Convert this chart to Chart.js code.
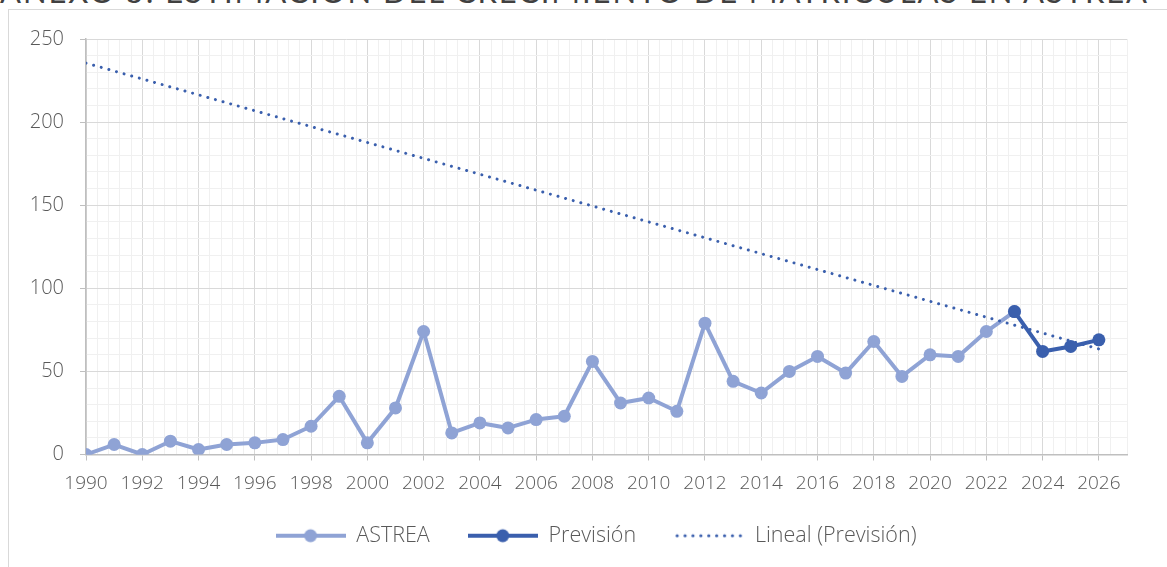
<!DOCTYPE html>
<html>
<head>
<meta charset="utf-8">
<script src="https://cdn.jsdelivr.net/npm/chart.js@4.4.0/dist/chart.umd.min.js"></script>
<style>
  html, body { margin: 0; padding: 0; background: #fff; width: 1167px; height: 567px; overflow: hidden; }
  #title { position: absolute; left: 0px; top: -28px; white-space: nowrap; font-family: "Lato", sans-serif; font-weight: 400; font-size: 31px; letter-spacing: 1.9px; color: #404040; }
  #frame { position: absolute; left: 8px; top: 9px; width: 1300px; height: 700px; border: 1.5px solid #d9d9d9; }
  #wrap { position: absolute; left: 0; top: 0; width: 1167px; height: 567px; }
</style>
</head>
<body>
<div id="title">ANEXO 5: ESTIMACIÓN DEL CRECIMIENTO DE MATRÍCULAS EN ASTREA</div>
<div id="frame"></div>
<div id="wrap"><canvas id="c"></canvas></div>
<script>
// ---- data ----
const years = [1990,1991,1992,1993,1994,1995,1996,1997,1998,1999,2000,2001,2002,2003,2004,2005,2006,2007,2008,2009,2010,2011,2012,2013,2014,2015,2016,2017,2018,2019,2020,2021,2022,2023];
const astrea = [0,6,0,8,3,6,7,9,17,35,7,28,74,13,19,16,21,23,56,31,34,26,79,44,37,50,59,49,68,47,60,59,74,86];
const forecastYears = [2023,2024,2025,2026];
const prevision = [86,62,65,69];
const trendYears = [1990,2026];
const trendValues = [235.5,63.5];
const seriesNames = ['ASTREA','Previsión','Lineal (Previsión)'];

const LIGHT = '#8FA3D5';
const DARK = '#3A5FAD';
const TEXT = '#595959';
const FONT = '"Open Sans", "Lato", sans-serif';

function pts(xs, ys) { return xs.map((x, i) => ({x: x, y: ys[i]})); }
function isMajorYear(v) { const r = Math.round(v); return Math.abs(v - r) < 1e-6 && r % 2 === 0 && r <= 2026; }

function legendSwatch(color, kind) {
  const c = document.createElement('canvas');
  c.width = 70; c.height = 16;
  const g = c.getContext('2d');
  g.strokeStyle = color; g.fillStyle = color;
  if (kind === 'dots') {
    for (let x = 3; x < 70; x += 7.9) { g.beginPath(); g.arc(x, 8, 1.6, 0, Math.PI * 2); g.fill(); }
  } else {
    g.lineWidth = 4; g.beginPath(); g.moveTo(0, 8); g.lineTo(70, 8); g.stroke();
    g.beginPath(); g.arc(35, 8, 6.5, 0, Math.PI * 2); g.fill();
  }
  return c;
}
const swatches = [legendSwatch(LIGHT, 'line'), legendSwatch(DARK, 'line'), legendSwatch(DARK, 'dots')];

// place the legend in the (wider) chart frame like the original
const legendFrame = { id: 'legendFrame', afterLayout(chart) {
  const l = chart.legend; if (!l) return;
  const h = l.bottom - l.top;
  l.left = 65; l.right = 1127; l.top = 487; l.bottom = 487 + h;
} };

new Chart(document.getElementById('c'), {
  type: 'line',
  plugins: [legendFrame],
  data: {
    datasets: [
      { label: seriesNames[0], data: pts(years, astrea), borderColor: LIGHT, backgroundColor: LIGHT, borderWidth: 4,
        pointRadius: 6.5, pointBorderWidth: 0, pointBackgroundColor: LIGHT, order: 3, borderJoinStyle: 'round' },
      { label: seriesNames[1], data: pts(forecastYears, prevision), borderColor: DARK, backgroundColor: DARK, borderWidth: 4,
        pointRadius: 6.5, pointBorderWidth: 0, pointBackgroundColor: DARK, order: 1, borderJoinStyle: 'round' },
      { label: seriesNames[2], data: pts(trendYears, trendValues), borderColor: DARK, borderWidth: 3,
        borderDash: [0.01, 7.9], borderCapStyle: 'round', pointRadius: 0, order: 2 }
    ]
  },
  options: {
    responsive: true, maintainAspectRatio: false, animation: false,
    layout: { padding: { left: 0, right: 40, top: 39, bottom: 0 } },
    plugins: {
      tooltip: { enabled: false },
      legend: {
        position: 'bottom',
        labels: {
          usePointStyle: true, pointStyleWidth: 70, padding: 38,
          color: TEXT, font: { family: FONT, size: 21.5, weight: 300 },
          generateLabels: (chart) => chart.data.datasets.map((ds, i) => ({
            text: ds.label, pointStyle: swatches[i], fillStyle: ds.borderColor, strokeStyle: ds.borderColor,
            lineWidth: 0, hidden: false, datasetIndex: i, fontColor: TEXT
          }))
        }
      }
    },
    scales: {
      x: {
        type: 'linear', min: 1990, max: 2027,
        afterFit: (s) => { s.height = 43; },
        border: { color: '#bfbfbf', width: 1.5 },
        grid: {
          color: (ctx) => isMajorYear(ctx.tick.value) ? '#d9d9d9' : '#f0f0f0',
          lineWidth: 1,
          tickLength: 6,
          tickColor: (ctx) => isMajorYear(ctx.tick.value) ? '#bfbfbf' : 'rgba(0,0,0,0)'
        },
        ticks: {
          stepSize: 0.4, autoSkip: false, maxRotation: 0, padding: 12,
          color: TEXT, font: { family: FONT, size: 19, weight: 300 },
          callback: (v) => isMajorYear(v) ? String(Math.round(v)) : ''
        }
      },
      y: {
        min: 0, max: 250,
        afterFit: (s) => { s.width = 86; },
        border: { color: '#bfbfbf', width: 1.5 },
        grid: {
          color: (ctx) => ctx.tick.value % 50 === 0 ? '#d9d9d9' : '#f0f0f0',
          lineWidth: 1,
          tickLength: 6,
          tickColor: (ctx) => ctx.tick.value % 50 === 0 ? '#bfbfbf' : 'rgba(0,0,0,0)'
        },
        ticks: {
          stepSize: 10, autoSkip: false, padding: 16,
          color: TEXT, font: { family: FONT, size: 20, weight: 300 },
          callback: (v) => v % 50 === 0 ? String(v) : ''
        }
      }
    }
  }
});
</script>
</body>
</html>
